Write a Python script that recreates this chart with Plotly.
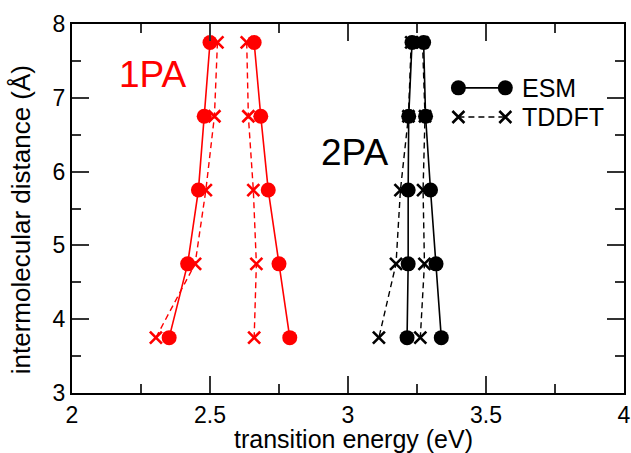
import plotly.graph_objects as go

# intermolecular distances (Å)
dist = [7.75, 6.75, 5.75, 4.75, 3.75]

# 1PA (red) transition energies (eV)
pa1_esm_a = [2.500, 2.479, 2.458, 2.419, 2.352]
pa1_esm_b = [2.660, 2.684, 2.711, 2.750, 2.789]
pa1_tddft_a = [2.527, 2.516, 2.485, 2.446, 2.304]
pa1_tddft_b = [2.633, 2.639, 2.657, 2.668, 2.660]

# 2PA (black) transition energies (eV)
pa2_esm_a = [3.232, 3.220, 3.218, 3.218, 3.214]
pa2_esm_b = [3.274, 3.281, 3.299, 3.319, 3.338]
pa2_tddft_a = [3.229, 3.219, 3.190, 3.174, 3.112]
pa2_tddft_b = [3.270, 3.279, 3.272, 3.277, 3.262]

x_title = "transition energy (eV)"
y_title = "intermolecular distance (Å)"

RED = "#ff0000"
BLACK = "#000000"
FONT = "Liberation Sans, Arial, Helvetica, sans-serif"

fig = go.Figure()

def esm(x, color):
    fig.add_trace(go.Scatter(
        x=x, y=dist, mode="lines+markers",
        line=dict(color=color, width=1.6),
        marker=dict(symbol="circle", size=15, color=color),
        showlegend=False, cliponaxis=False))

def tddft(x, color):
    fig.add_trace(go.Scatter(
        x=x, y=dist, mode="lines+markers",
        line=dict(color=color, width=1.4, dash="6px,4px"),
        marker=dict(symbol="x-thin", size=12, color=color,
                    line=dict(color=color, width=2.6)),
        showlegend=False, cliponaxis=False))

tddft(pa1_tddft_a, RED)
tddft(pa1_tddft_b, RED)
esm(pa1_esm_a, RED)
esm(pa1_esm_b, RED)
tddft(pa2_tddft_a, BLACK)
tddft(pa2_tddft_b, BLACK)
esm(pa2_esm_a, BLACK)
esm(pa2_esm_b, BLACK)

# legend (drawn in an overlay axis spanning the plot area)
legend_names = ["ESM", "TDDFT"]
fig.add_trace(go.Scatter(
    x=[0.700, 0.785], y=[0.827, 0.827], xaxis="x2", yaxis="y2",
    mode="lines+markers", line=dict(color=BLACK, width=1.6),
    marker=dict(symbol="circle", size=15, color=BLACK), showlegend=False))
fig.add_trace(go.Scatter(
    x=[0.700, 0.785], y=[0.748, 0.748], xaxis="x2", yaxis="y2",
    mode="lines+markers", line=dict(color=BLACK, width=1.4, dash="6px,4px"),
    marker=dict(symbol="x-thin", size=12, color=BLACK,
                line=dict(color=BLACK, width=2.6)), showlegend=False))
for yy, name in zip([0.827, 0.748], legend_names):
    fig.add_annotation(x=0.812, y=yy, xref="x2", yref="y2", text=name,
                       showarrow=False, xanchor="left", yanchor="middle",
                       font=dict(size=25, color=BLACK, family=FONT))

fig.add_annotation(x=2.292, y=7.31, text="1PA", showarrow=False,
                   font=dict(size=37, color=RED, family=FONT))
fig.add_annotation(x=3.025, y=6.26, text="2PA", showarrow=False,
                   font=dict(size=37, color=BLACK, family=FONT))

# axis titles
fig.add_annotation(x=0.51, y=-0.126, xref="paper", yref="paper", text=x_title,
                   showarrow=False, xanchor="center", yanchor="middle",
                   font=dict(size=25, color=BLACK, family=FONT))
fig.add_annotation(x=-0.093, y=0.47, xref="paper", yref="paper", text=y_title,
                   showarrow=False, xanchor="center", yanchor="middle", textangle=-90,
                   font=dict(size=26, color=BLACK, family=FONT))

axis_common = dict(
    showline=True, linecolor=BLACK, linewidth=2, mirror="ticks",
    ticks="inside", ticklen=17, tickwidth=1.5, tickcolor="#333",
    showgrid=False, zeroline=False, ticklabeloverflow="allow",
    tickfont=dict(size=23, color=BLACK, family=FONT),
    automargin=False,
)

fig.update_layout(
    width=631, height=453,
    margin=dict(l=72, r=7, t=24, b=60),
    paper_bgcolor="white", plot_bgcolor="white",
    font=dict(family=FONT, color=BLACK),
    xaxis=dict(range=[2, 4], dtick=0.5,
               minor=dict(ticks="inside", ticklen=9, dtick=0.25, tickcolor="#333", tickwidth=1.5),
               **axis_common),
    yaxis=dict(range=[3, 8], dtick=1,
               minor=dict(ticks="inside", ticklen=9, dtick=0.5, tickcolor="#333", tickwidth=1.5),
               **axis_common),
    xaxis2=dict(range=[0, 1], overlaying="x", visible=False, fixedrange=True),
    yaxis2=dict(range=[0, 1], overlaying="y", visible=False, fixedrange=True),
)

fig.write_html("out.html")
